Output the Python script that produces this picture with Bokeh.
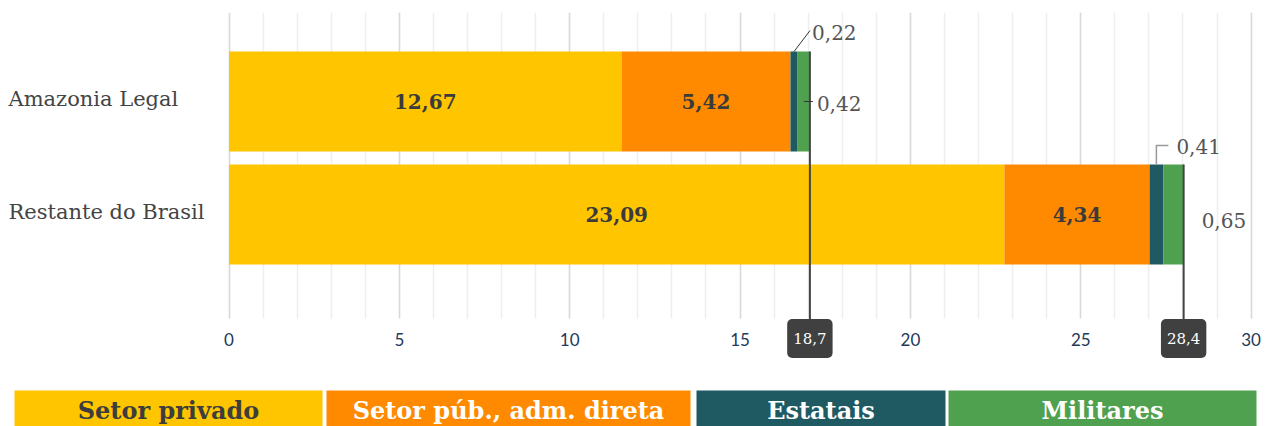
from bokeh.plotting import figure
from bokeh.models import ColumnDataSource, Range1d, FixedTicker, Label
from bokeh.layouts import column
from bokeh.core.properties import value
from bokeh.embed import file_html
from bokeh.resources import INLINE

# ---------------- data ----------------
categorias = ["Amazonia Legal", "Restante do Brasil"]
series = ["Setor privado", "Setor púb., adm. direta", "Estatais", "Militares"]
# values as printed on the chart
privado = [12.67, 23.09]
publico = [5.42, 4.34]
estatais = [0.22, 0.41]
militares = [0.42, 0.65]
totais = [18.7, 28.4]
# bar lengths as drawn against the axis of the reference
privado_barra = [11.52, 22.76]
publico_barra = [4.96, 4.26]
estatais_barra = [0.21, 0.40]
militares_barra = [0.36, 0.60]
ticks = [0, 5, 10, 15, 20, 25, 30]
cores = ["#FFC600", "#FF8A00", "#1F5A62", "#50A14F"]
cores_texto_legenda = ["#3d3d3d", "white", "white", "white"]

SERIF = value("DejaVu Serif")


def fmt(v, d=2):
    return f"{v:.{d}f}".replace(".", ",")


# ---------------- geometry ----------------
W = 1274
H = 380
TOP = 12
PXX = 34.07            # px per x unit
X0 = 228.5             # px of x=0
PXY = 113.0            # px per category step
ypos = [len(categorias) - 1 - i for i in range(len(categorias))]
x_range = Range1d(-X0 / PXX, (W - X0) / PXX)
y_range = Range1d(-166 / PXY, 1 + 89 / PXY)
y_axis_at = -104 / PXY
bar_h = 100 / PXY

dx = lambda px: px / PXX
dy = lambda px: px / PXY

p = figure(width=W, height=H, x_range=x_range, y_range=y_range,
           toolbar_location=None, output_backend="svg", y_axis_location=None,
           min_border_left=0, min_border_right=0, min_border_top=TOP,
           min_border_bottom=0, background_fill_color="white",
           border_fill_color="white")
p.outline_line_color = None
p.ygrid.visible = False

ticker = FixedTicker(ticks=ticks, minor_ticks=list(range(ticks[0], ticks[-1] + 1)))
p.xaxis.ticker = ticker
p.xgrid.ticker = ticker
p.xgrid.grid_line_color = "#d9d9d9"
p.xgrid.grid_line_width = 1.5
p.xgrid.minor_grid_line_color = "#eeeeee"
p.xgrid.minor_grid_line_width = 1.5
try:
    p.xgrid.cross_bounds = (y_axis_at, y_range.end)
except Exception:
    pass
ax = p.xaxis[0]
ax.fixed_location = y_axis_at
ax.axis_line_color = None
ax.major_tick_line_color = None
ax.minor_tick_line_color = None
ax.major_tick_out = 0
ax.major_tick_in = 0
ax.minor_tick_out = 0
ax.minor_tick_in = 0
ax.major_label_text_font = "Lato"
ax.major_label_text_font_size = "17px"
ax.major_label_text_color = "#22395a"
ax.major_label_standoff = 14

src = ColumnDataSource(dict(y=ypos, a=privado_barra, b=publico_barra,
                            c=estatais_barra, d=militares_barra))
p.hbar_stack(["a", "b", "c", "d"], y="y", height=bar_h, color=cores,
             line_color=None, source=src)

# cumulative positions
ends1 = privado_barra
ends2 = [a + b for a, b in zip(ends1, publico_barra)]
ends3 = [a + b for a, b in zip(ends2, estatais_barra)]
ends4 = [a + b for a, b in zip(ends3, militares_barra)]

# labels inside bars
lx, ly, lt = [], [], []
for i in range(len(categorias)):
    lx += [privado_barra[i] / 2, ends1[i] + publico_barra[i] / 2]
    ly += [ypos[i], ypos[i]]
    lt += [fmt(privado[i]), fmt(publico[i])]
p.text(x=lx, y=ly, text=lt, text_font=SERIF, text_font_style="bold",
       text_font_size="20px", text_color="#3b3b3b", text_align="center",
       text_baseline="middle")

# category labels
p.text(x=[x_range.start + dx(8)] * len(categorias), y=[y + dy(3) for y in ypos],
       text=categorias, text_font=SERIF, text_font_size="21px",
       text_color="#444444", text_align="left", text_baseline="middle")

# total lines
tops = [y + bar_h / 2 for y in ypos]
p.segment(x0=ends4, y0=tops, x1=ends4, y1=[y_axis_at - dy(4)] * len(ends4),
          line_color="#444444", line_width=2)

# small value labels with leaders
i0, i1 = 0, 1
m0 = ends2[i0] + estatais_barra[i0] / 2          # estatais amazonia
g0 = ends3[i0] + militares_barra[i0] / 2         # militares amazonia
m1 = ends2[i1] + estatais_barra[i1] / 2          # estatais restante
p.multi_line(xs=[[m0, m0 + dx(16)], [g0, ends4[i0] + dx(3)]],
             ys=[[tops[i0], tops[i0] + dy(21)], [ypos[i0], ypos[i0]]],
             line_color="#333333", line_width=1)
p.multi_line(xs=[[m1, m1, m1 + dx(12)]],
             ys=[[tops[i1], tops[i1] + dy(19), tops[i1] + dy(19)]],
             line_color="#999999", line_width=1.5)
sx = [m0 + dx(18), ends4[i0] + dx(7), m1 + dx(20), ends4[i1] + dx(18)]
sy = [tops[i0] + dy(19), ypos[i0] - dy(2), tops[i1] + dy(18), ypos[i1] - dy(6)]
st = [fmt(estatais[i0]), fmt(militares[i0]), fmt(estatais[i1]), fmt(militares[i1])]
p.text(x=sx, y=sy, text=st, text_font=SERIF, text_font_size="20px",
       text_color="#555555", text_align="left", text_baseline="middle")

# total boxes
for i in range(len(categorias)):
    p.add_layout(Label(x=ends4[i], y=y_axis_at - dy(20), text=fmt(totais[i], 1),
                       text_font="DejaVu Serif", text_font_size="15px",
                       text_color="white", text_align="center",
                       text_baseline="middle", background_fill_color="#404040",
                       border_radius=5,
                       padding=dict(left=6, right=6, top=14, bottom=14)))

# ---------------- legend strip ----------------
LH = 46
leg = figure(width=W, height=LH, x_range=Range1d(0, W), y_range=Range1d(0, LH),
             toolbar_location=None, output_backend="svg", min_border=0,
             x_axis_location=None, y_axis_location=None)
leg.outline_line_color = None
leg.grid.visible = False
lefts = [14, 326, 696, 948]
rights = [322, 690, 945, 1256]
leg.quad(left=lefts, right=rights, top=[36] * 4, bottom=[-10] * 4,
         color=cores, line_color=None)
leg.text(x=[(l + r) / 2 for l, r in zip(lefts, rights)], y=[16.5] * 4, text=series,
         text_font=SERIF, text_font_style="bold", text_font_size="24px",
         text_color=cores_texto_legenda,
         text_align="center", text_baseline="middle")

layout = column(p, leg)
open("out.html", "w").write(file_html(layout, INLINE))
